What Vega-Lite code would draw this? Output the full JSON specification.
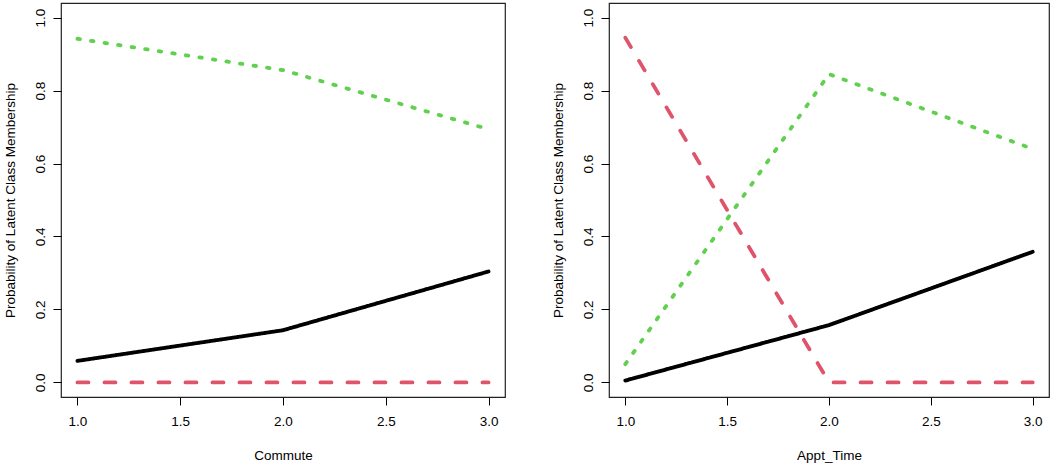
{
  "$schema": "https://vega.github.io/schema/vega-lite/v6.json",
  "padding": {"left": 2, "top": 2, "right": 2, "bottom": 0},
  "background": "white",
  "config": {
    "view": {"stroke": "#222222", "strokeWidth": 1.2},
    "font": "Liberation Sans",
    "axis": {"domain": false, "grid": false, "tickColor": "black", "tickSize": 8, "tickWidth": 1, "labelColor": "black", "labelFontSize": 13.5, "titleFontSize": 13.5, "titleFontWeight": "normal", "titleColor": "black", "labelFont": "Liberation Sans", "titleFont": "Liberation Sans"},
    "concat": {"spacing": 44}
  },
  "datasets": {
    "commute": [
      {"x": 1, "p": 0.059, "cls": "1"},
      {"x": 2, "p": 0.143, "cls": "1"},
      {"x": 3, "p": 0.304, "cls": "1"},
      {"x": 1, "p": 0.0, "cls": "2"},
      {"x": 2, "p": 0.0, "cls": "2"},
      {"x": 3, "p": 0.0, "cls": "2"},
      {"x": 1, "p": 0.942, "cls": "3"},
      {"x": 2, "p": 0.856, "cls": "3"},
      {"x": 3, "p": 0.694, "cls": "3"}
    ],
    "appt": [
      {"x": 1, "p": 0.005, "cls": "1"},
      {"x": 2, "p": 0.157, "cls": "1"},
      {"x": 3, "p": 0.358, "cls": "1"},
      {"x": 1, "p": 0.945, "cls": "2"},
      {"x": 2, "p": 0.0, "cls": "2"},
      {"x": 3, "p": 0.0, "cls": "2"},
      {"x": 1, "p": 0.050, "cls": "3"},
      {"x": 2, "p": 0.845, "cls": "3"},
      {"x": 3, "p": 0.640, "cls": "3"}
    ]
  },
  "hconcat": [
    {
      "width": 444,
      "height": 394,
      "data": {"name": "commute"},
      "mark": {"type": "line", "strokeWidth": 3.8, "strokeCap": "round"},
      "encoding": {
        "x": {"field": "x", "type": "quantitative", "title": "Commute",
              "scale": {"domain": [0.92, 3.08], "nice": false, "zero": false},
              "axis": {"values": [1, 1.5, 2, 2.5, 3], "format": ".1f", "labelPadding": 9, "titlePadding": 21}},
        "y": {"field": "p", "type": "quantitative", "title": "Probability of Latent Class Membership",
              "scale": {"domain": [-0.04, 1.04], "nice": false, "zero": false},
              "axis": {"values": [0, 0.2, 0.4, 0.6, 0.8, 1], "format": ".1f", "labelAngle": -90, "labelAlign": "center", "labelBaseline": "bottom", "labelPadding": 6, "titlePadding": 16}},
        "color": {"field": "cls", "type": "nominal", "scale": {"domain": ["1", "2", "3"], "range": ["#000000", "#DF536B", "#61D04F"]}, "legend": null},
        "strokeDash": {"field": "cls", "type": "nominal", "scale": {"domain": ["1", "2", "3"], "range": [[1, 0], [11, 16], [2.5, 11.2]]}, "legend": null}
      }
    },
    {
      "width": 440,
      "height": 394,
      "data": {"name": "appt"},
      "mark": {"type": "line", "strokeWidth": 3.8, "strokeCap": "round"},
      "encoding": {
        "x": {"field": "x", "type": "quantitative", "title": "Appt_Time",
              "scale": {"domain": [0.92, 3.08], "nice": false, "zero": false},
              "axis": {"values": [1, 1.5, 2, 2.5, 3], "format": ".1f", "labelPadding": 9, "titlePadding": 21}},
        "y": {"field": "p", "type": "quantitative", "title": "Probability of Latent Class Membership",
              "scale": {"domain": [-0.04, 1.04], "nice": false, "zero": false},
              "axis": {"values": [0, 0.2, 0.4, 0.6, 0.8, 1], "format": ".1f", "labelAngle": -90, "labelAlign": "center", "labelBaseline": "bottom", "labelPadding": 6, "titlePadding": 16}},
        "color": {"field": "cls", "type": "nominal", "scale": {"domain": ["1", "2", "3"], "range": ["#000000", "#DF536B", "#61D04F"]}, "legend": null},
        "strokeDash": {"field": "cls", "type": "nominal", "scale": {"domain": ["1", "2", "3"], "range": [[1, 0], [11, 16], [2.5, 11.2]]}, "legend": null}
      }
    }
  ]
}
